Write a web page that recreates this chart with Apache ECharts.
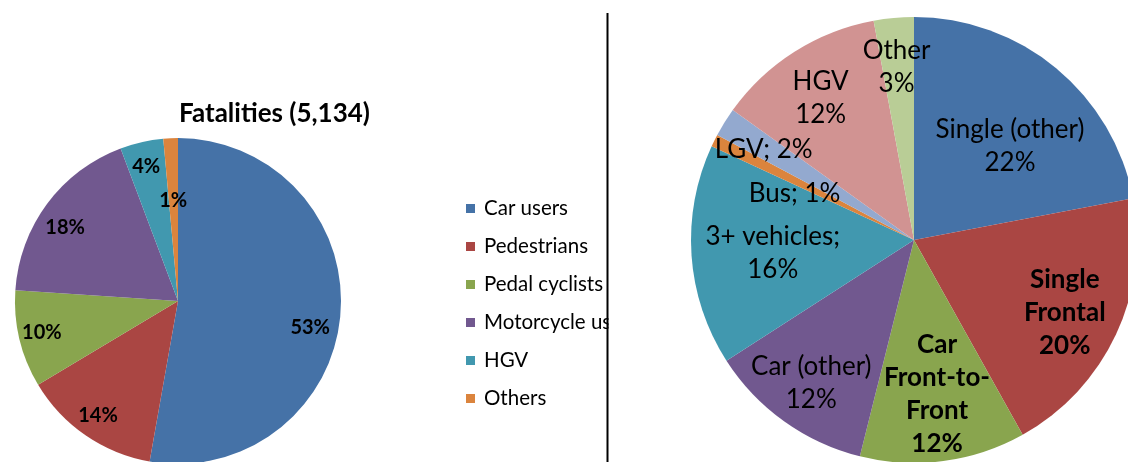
<!DOCTYPE html>
<html><head><meta charset="utf-8">
<script src="https://cdn.jsdelivr.net/npm/echarts@6/dist/echarts.min.js"></script>
<style>html,body{margin:0;padding:0;background:#fff}#c{width:1128px;height:462px}</style>
</head><body><div id="c"></div>
<script>
// ---- data ----
const leftTitle = 'Fatalities (5,134)';
const leftCategories = ['Car users', 'Pedestrians', 'Pedal cyclists', 'Motorcycle users', 'HGV', 'Others'];
const leftValues = [2710, 700, 495, 935, 220, 74];

const rightCategories = ['Single (other)', 'Single Frontal', 'Car Front-to-Front', 'Car (other)', '3+ vehicles', 'Bus', 'LGV', 'HGV', 'Other'];
const rightLabelNames = ['Single (other)', 'Single\nFrontal', 'Car\nFront-to-\nFront', 'Car (other)', '3+ vehicles;', 'Bus;', 'LGV;', 'HGV', 'Other'];
const rightLabelSep = ['\n', '\n', '\n', '\n', '\n', ' ', ' ', '\n', '\n'];
const rightValues = [22.0, 19.9, 12.0, 12.0, 16.0, 0.9, 2.1, 12.2, 2.9];

// ---- styles ----
const leftColors = ['#4572A7', '#AA4643', '#89A54E', '#71588F', '#4198AF', '#DB843D'];
const rightColors = ['#4572A7', '#AA4643', '#89A54E', '#71588F', '#4198AF', '#DB843D', '#93A9CF', '#D19392', '#B9CD96'];
const leftLabelOffsets = [[48, 19], [-32, 45], [-54, 12], [-45, -23], [-13, -52], [-1, -16]];
const rightLabelOffsets = [[23, -6], [47, 24], [8, 41], [-36, 50], [-27, 5], [-17, 5], [-53, -30], [-32, -45], [-7, -59]];
const rightBold = [false, true, true, false, false, false, false, false, false];
const FONT = 'Lato';

const sum = a => a.reduce((s, v) => s + v, 0);
const leftTotal = sum(leftValues);
const rightTotal = sum(rightValues);

const chart = echarts.init(document.getElementById('c'), null, {renderer: 'canvas'});
chart.setOption({
  backgroundColor: '#fff',
  animation: false,
  title: {
    text: leftTitle, left: 179, top: 101, padding: 0,
    textStyle: {fontFamily: FONT, fontSize: 26, fontWeight: 'bold', color: '#000'}
  },
  legend: {
    orient: 'vertical', left: 466, top: 198, padding: 0,
    data: leftCategories,
    icon: 'rect', itemWidth: 9, itemHeight: 9, itemGap: 17,
    textStyle: {fontFamily: FONT, fontSize: 20.5, lineHeight: 20, color: '#000', padding: [0, 0, 0, 4]}
  },
  series: [
    {
      type: 'pie', name: 'Fatalities',
      center: [178, 301], radius: 163, startAngle: 90, clockwise: true,
      avoidLabelOverlap: false,
      data: leftCategories.map((n, i) => ({name: n, value: leftValues[i], itemStyle: {color: leftColors[i]}})),
      label: {
        show: true, position: 'inside', fontFamily: FONT, fontSize: 20, fontWeight: 'bold', color: '#000',
        formatter: p => Math.round(p.value / leftTotal * 100) + '%'
      },
      labelLine: {show: false},
      labelLayout: p => ({dx: leftLabelOffsets[p.dataIndex][0], dy: leftLabelOffsets[p.dataIndex][1]}),
      emphasis: {disabled: true}
    },
    {
      type: 'pie', name: 'Collisions',
      center: [914, 240], radius: 223, startAngle: 90, clockwise: true,
      avoidLabelOverlap: false,
      data: rightCategories.map((n, i) => ({
        name: n, value: rightValues[i], itemStyle: {color: rightColors[i]},
        label: rightBold[i] ? {fontWeight: 'bold', lineHeight: 33} : {}
      })),
      label: {
        show: true, position: 'inside', fontFamily: FONT, fontSize: 26, lineHeight: 33, color: '#000',
        formatter: p => rightLabelNames[p.dataIndex] + rightLabelSep[p.dataIndex] + Math.round(p.value / rightTotal * 100) + '%'
      },
      labelLine: {show: false},
      labelLayout: p => ({dx: rightLabelOffsets[p.dataIndex][0], dy: rightLabelOffsets[p.dataIndex][1]}),
      emphasis: {disabled: true}
    }
  ],
  graphic: [
    {type: 'rect', z: 100, shape: {x: 608.5, y: 150, width: 70, height: 280}, style: {fill: '#fff'}},
    {type: 'line', z: 101, shape: {x1: 607.5, y1: 13, x2: 607.5, y2: 462}, style: {stroke: '#000', lineWidth: 2}}
  ]
});
</script></body></html>
